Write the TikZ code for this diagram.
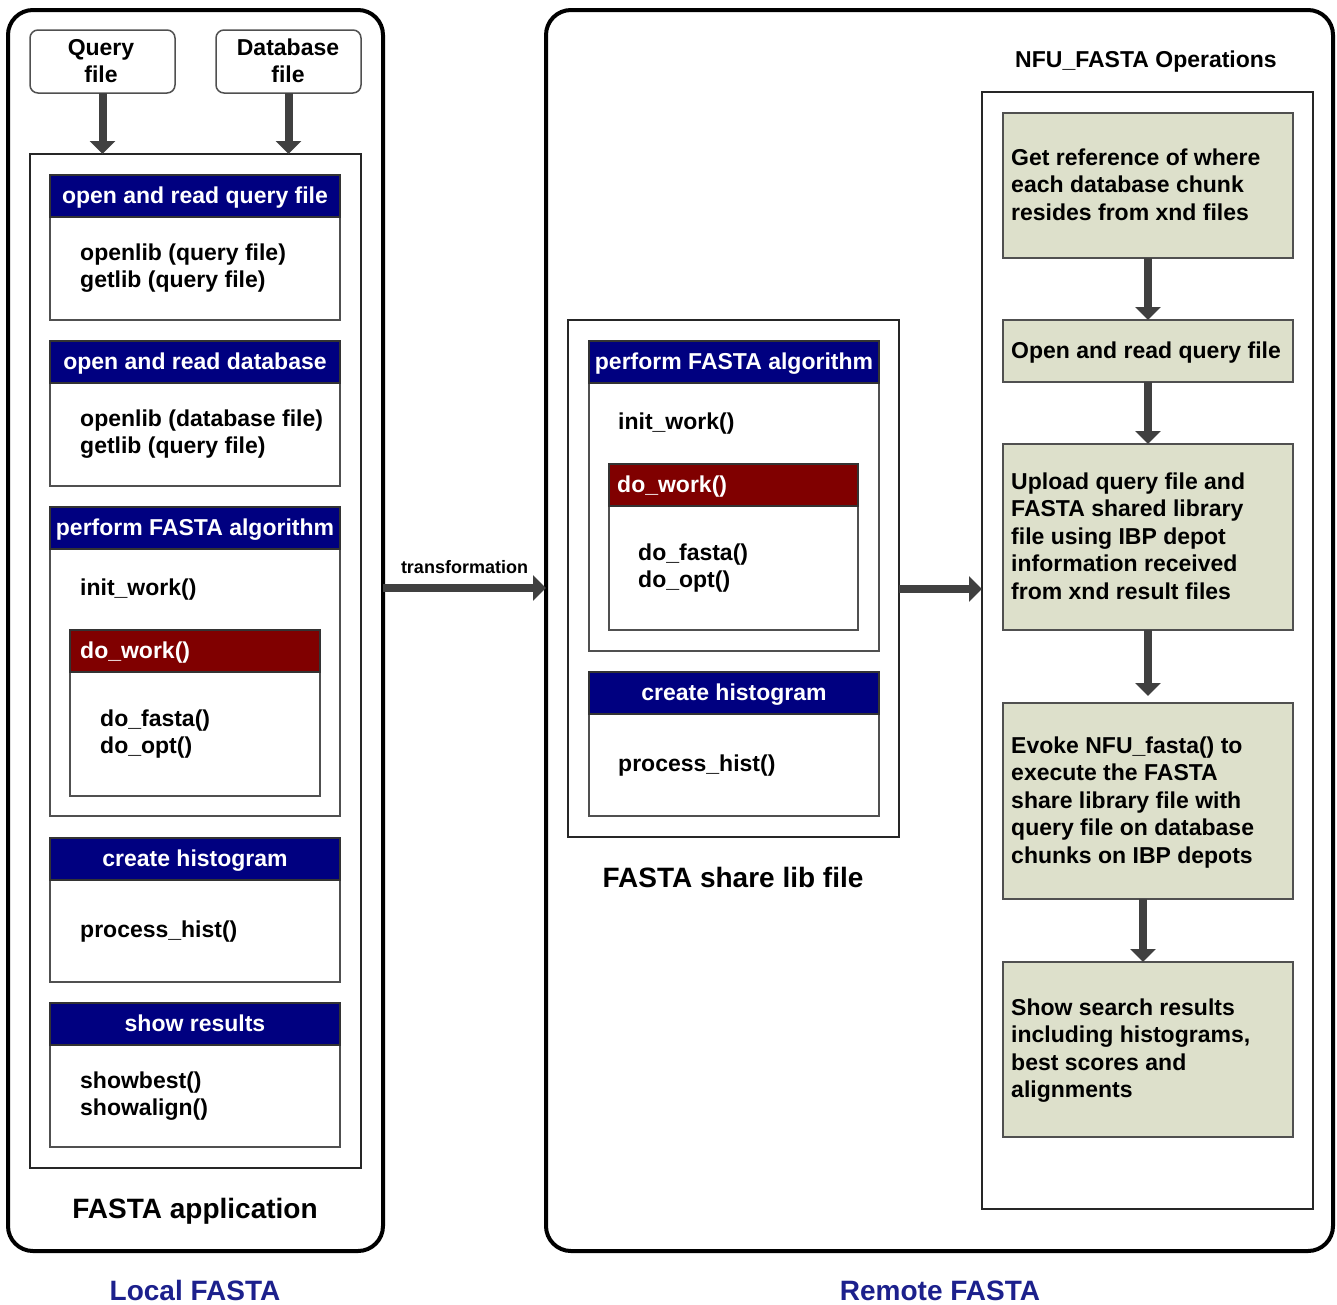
\documentclass[tikz,border=0pt]{standalone}
\usepackage{fontspec}
\setmainfont{Liberation Sans}
\usetikzlibrary{arrows.meta}
\definecolor{hnavy}{RGB}{0,0,128}
\definecolor{hred}{RGB}{128,0,0}
\definecolor{arrgray}{RGB}{64,64,64}
\definecolor{greenbox}{RGB}{221,224,203}
\definecolor{lblblue}{RGB}{28,32,140}
\definecolor{edgegray}{RGB}{80,80,80}
\newcommand\mybox[6]{\node[#6,anchor=north west,minimum width={#4-#2},minimum height={#5-#3},inner sep=0pt,outer sep=0pt] (#1) at (#2,#3) {};}
\begin{document}
\begin{tikzpicture}[x=1pt,y=-1pt,
  font=\fontsize{23}{27.5}\selectfont\bfseries,
  outer/.style={draw=black,line width=4pt,rounded corners=25pt},
  frame/.style={draw=black!85,line width=2.5pt},
  body/.style={draw=edgegray,line width=2pt,fill=white},
  hdr/.style={draw=black!80,line width=1.5pt,fill=hnavy},
  hdrred/.style={draw=black!80,line width=1.5pt,fill=hred},
  filebox/.style={draw=edgegray,line width=1.5pt,rounded corners=8pt,fill=white},
  gbox/.style={draw=edgegray,line width=2pt,fill=greenbox},
  bigarrow/.style={draw=arrgray,line width=8pt,-{Triangle[width=25pt,length=13pt]}},
  txt/.style={anchor=base west,inner sep=0pt,align=left},
  ctxt/.style={anchor=base,inner sep=0pt,align=center},
  htxt/.style={anchor=base,inner sep=0pt,text=white},
  hltxt/.style={anchor=base west,inner sep=0pt,text=white},
  title/.style={anchor=base,inner sep=0pt,font=\fontsize{28}{32}\selectfont\bfseries},
  sub/.style={anchor=base,inner sep=0pt,text=lblblue,font=\fontsize{28}{32}\selectfont\bfseries},
  small/.style={font=\fontsize{18}{22}\selectfont\bfseries,inner sep=0pt}
]
\useasboundingbox (0,0) rectangle (1337,1304);

% ---------- Local FASTA ----------
\mybox{local}{8}{10}{383}{1251}{outer}
\mybox{qf}{30}{30}{175}{93}{filebox}
\mybox{dbf}{216}{30}{361}{93}{filebox}
\node[ctxt] (qft) at (101,82.5) {Query\\file};
\node[ctxt] (dbft) at (288,82.5) {Database\\file};
\mybox{app}{30}{154}{361}{1168}{frame}

\mybox{s1}{50}{175}{340}{320}{body}
\mybox{s1h}{50}{175}{340}{217}{hdr}
\node[htxt] (s1ht) at (195,203) {open and read query file};
\node[txt] (s1t) at (80,287.5) {openlib (query file)\\getlib (query file)};

\mybox{s2}{50}{341}{340}{486}{body}
\mybox{s2h}{50}{341}{340}{383}{hdr}
\node[htxt] (s2ht) at (195,369) {open and read database};
\node[txt] (s2t) at (80,453.5) {openlib (database file)\\getlib (query file)};

\mybox{s3}{50}{507}{340}{816}{body}
\mybox{s3h}{50}{507}{340}{549}{hdr}
\node[htxt] (s3ht) at (195,535) {perform FASTA algorithm};
\node[txt] (s3t) at (80,595) {init\_work()};
\mybox{s3w}{70}{630}{320}{796}{body}
\mybox{s3wh}{70}{630}{320}{672}{hdrred}
\node[hltxt] (s3wht) at (80,658) {do\_work()};
\node[txt] (s3wt) at (100,753.5) {do\_fasta()\\do\_opt()};

\mybox{s4}{50}{838}{340}{982}{body}
\mybox{s4h}{50}{838}{340}{880}{hdr}
\node[htxt] (s4ht) at (195,866) {create histogram};
\node[txt] (s4t) at (80,937) {process\_hist()};

\mybox{s5}{50}{1003}{340}{1147}{body}
\mybox{s5h}{50}{1003}{340}{1045}{hdr}
\node[htxt] (s5ht) at (195,1031) {show results};
\node[txt] (s5t) at (80,1115.5) {showbest()\\showalign()};

\node[title] (apptitle) at (195,1218) {FASTA application};
\node[sub] (localtitle) at (195,1300) {Local FASTA};

% ---------- Remote FASTA ----------
\mybox{remote}{546}{10}{1333}{1251}{outer}
\mybox{lib}{568}{320}{899}{837}{frame}

\mybox{m1}{589}{341}{879}{651}{body}
\mybox{m1h}{589}{341}{879}{383}{hdr}
\node[htxt] (m1ht) at (734,369) {perform FASTA algorithm};
\node[txt] (m1t) at (618,429) {init\_work()};
\mybox{m1w}{609}{464}{858}{630}{body}
\mybox{m1wh}{609}{464}{858}{506}{hdrred}
\node[hltxt] (m1wht) at (617,492) {do\_work()};
\node[txt] (m1wt) at (638,587.5) {do\_fasta()\\do\_opt()};

\mybox{m2}{589}{672}{879}{816}{body}
\mybox{m2h}{589}{672}{879}{714}{hdr}
\node[htxt] (m2ht) at (734,700) {create histogram};
\node[txt] (m2t) at (618,771) {process\_hist()};

\node[title] (libtitle) at (733,887) {FASTA share lib file};

\node[ctxt] (nfutitle) at (1146,67) {NFU\_FASTA Operations};
\mybox{nfu}{982}{92}{1313}{1209}{frame}

\mybox{g1}{1003}{113}{1293}{258}{gbox}
\node[txt] (g1t) at (1011,220) {Get reference of where\\each database chunk\\resides from xnd files};
\mybox{g2}{1003}{320}{1293}{382}{gbox}
\node[txt] (g2t) at (1011,358) {Open and read query file};
\mybox{g3}{1003}{444}{1293}{630}{gbox}
\node[txt] (g3t) at (1011,599) {Upload query file and\\FASTA shared library\\file using IBP depot\\information received\\from xnd result files};
\mybox{g4}{1003}{703}{1293}{899}{gbox}
\node[txt] (g4t) at (1011,863) {Evoke NFU\_fasta() to\\execute the FASTA\\share library file with\\query file on database\\chunks on IBP depots};
\mybox{g5}{1003}{962}{1293}{1137}{gbox}
\node[txt] (g5t) at (1011,1097.5) {Show search results\\including histograms,\\best scores and\\alignments};

\node[sub] (remotetitle) at (940,1300) {Remote FASTA};

% ---------- connectors ----------
\draw[bigarrow] (qf.south) -- (qf.south |- app.north);
\draw[bigarrow] (dbf.south) -- (dbf.south |- app.north);
\coordinate (ty) at (0,588);
\draw[bigarrow] (local.east |- ty) -- node[small,midway,above=15pt,anchor=base] {transformation} (remote.west |- ty);
\coordinate (my) at (0,589);
\draw[bigarrow] (lib.east |- my) -- (nfu.west |- my);
\draw[bigarrow] (g1.south) -- (g2.north);
\draw[bigarrow] (g2.south) -- (g3.north);
\draw[bigarrow] (g3.south) -- ([yshift=7pt]g4.north);
\draw[bigarrow] ([xshift=-5pt]g4.south) -- ([xshift=-5pt]g5.north);
\end{tikzpicture}
\end{document}
